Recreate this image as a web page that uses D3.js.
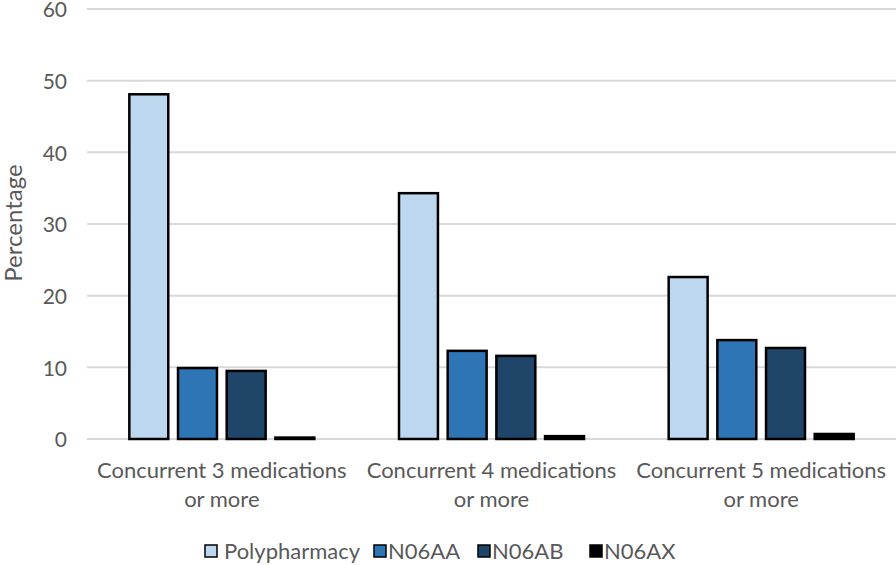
<!DOCTYPE html>
<html><head><meta charset="utf-8">
<script src="https://cdn.jsdelivr.net/npm/d3@7"></script>
<style>body{margin:0;background:#fff}svg{display:block}text{font-family:Lato,"Open Sans",sans-serif}</style>
</head><body>
<svg id="c" width="896" height="565"></svg>
<script>
const categories = ["Concurrent 3 medications|or more","Concurrent 4 medications|or more","Concurrent 5 medications|or more"];
const seriesNames = ["Polypharmacy","N06AA","N06AB","N06AX"];
const polypharmacy = [48.1, 34.3, 22.6];
const n06aa = [9.9, 12.3, 13.8];
const n06ab = [9.5, 11.6, 12.7];
const n06ax = [0.2, 0.4, 0.7];
const yTicks = [0,10,20,30,40,50,60];
const colors = ["#BDD7EE","#2E75B6","#1F4568","#000000"];

(function(){
const seriesValues = [polypharmacy, n06aa, n06ab, n06ax];
const svg = d3.select("#c");
const mL = 87, mR = 896, mT = 9, mB = 439;
const x0 = d3.scaleBand().domain(d3.range(categories.length)).range([mL, mR]).paddingInner(0).paddingOuter(0);
const y = d3.scaleLinear().domain([0,60]).range([mB, mT]);
const groupW = 185;
const x1 = d3.scaleBand().domain(d3.range(seriesNames.length)).range([0, groupW]).paddingInner(0.2).paddingOuter(0);

svg.append("g").selectAll("line").data(yTicks).join("line")
  .attr("x1", mL).attr("x2", mR)
  .attr("y1", d=>y(d)).attr("y2", d=>y(d))
  .attr("stroke","#d9d9d9").attr("stroke-width",2);

const yAxis = d3.axisLeft(y).tickValues(yTicks).tickSize(0).tickPadding(0);
const ya = svg.append("g").attr("transform","translate(67,1)").call(yAxis);
ya.select(".domain").remove();
ya.selectAll("text").attr("font-size",21).attr("fill","#595959").attr("font-family","Lato,'Open Sans',sans-serif");

svg.append("text").attr("transform","translate(22,223) rotate(-90)")
  .attr("text-anchor","middle").attr("font-size",24).attr("fill","#595959").text("Percentage");

const groups = svg.append("g").selectAll("g").data(categories).join("g")
  .attr("transform",(d,i)=>`translate(${x0(i)+x0.bandwidth()/2-groupW/2},0)`);
groups.each(function(c,ci){
  d3.select(this).selectAll("rect").data(seriesValues.map((s,si)=>({si,v:s[ci]}))).join("rect")
    .attr("x",d=>x1(d.si)).attr("width",x1.bandwidth())
    .attr("y",d=>y(d.v)).attr("height",d=>y(0)-y(d.v))
    .attr("fill",d=>colors[d.si]).attr("stroke","#000").attr("stroke-width",2.5);
});

const cl = svg.append("g").selectAll("text").data(categories).join("text")
  .attr("text-anchor","middle").attr("font-size",22).attr("fill","#595959")
  .attr("x",(d,i)=>x0(i)+x0.bandwidth()/2);
cl.each(function(d){
  const self = d3.select(this);
  self.selectAll("tspan").data(d.split("|")).join("tspan")
    .attr("x",self.attr("x")).attr("y",(p,j)=>478+j*29).text(p=>p);
});

const legendX = [205, 374, 478, 590];
const lg = svg.append("g").selectAll("g").data(seriesNames).join("g")
  .attr("transform",(d,i)=>`translate(${legendX[i]},545)`);
lg.append("rect").attr("width",12).attr("height",12).attr("fill",(d,i)=>colors[i]).attr("stroke","#000").attr("stroke-width",1.5);
lg.append("text").attr("x",(d,i)=>i==0?19:14).attr("y",14).attr("font-size",22).attr("fill","#595959").text(d=>d);
})();
</script>
</body></html>
